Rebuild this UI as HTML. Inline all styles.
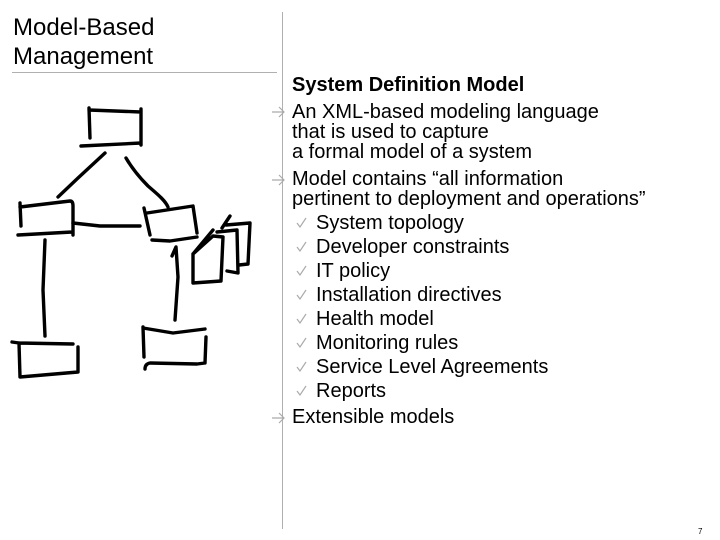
<!DOCTYPE html>
<html>
<head>
<meta charset="utf-8">
<style>
html,body{margin:0;padding:0;background:#fff}
svg{display:block}
text{font-family:"Liberation Sans",sans-serif;fill:#000}
.b{font-size:20px}
.s{fill:none;stroke:#000;stroke-width:3.4;stroke-linecap:round;stroke-linejoin:round}
.a{fill:none;stroke:#aaa;stroke-width:1.2}
.c{fill:none;stroke:#aaa;stroke-width:1.2}
</style>
</head>
<body>
<svg width="720" height="540" viewBox="0 0 720 540" xmlns="http://www.w3.org/2000/svg">
<rect width="720" height="540" fill="#fff"/>
<line x1="282.5" y1="12" x2="282.5" y2="529" stroke="#b0b0b0" stroke-width="1"/>
<line x1="12" y1="72.5" x2="277" y2="72.5" stroke="#b0b0b0" stroke-width="1"/>
<text x="13" y="35" font-size="24">Model-Based</text>
<text x="13" y="64" font-size="24">Management</text>

<text x="292" y="91" class="b" font-weight="bold">System Definition Model</text>
<text x="292" y="118" class="b">An XML-based modeling language</text>
<text x="292" y="138" class="b">that is used to capture</text>
<text x="292" y="158" class="b">a formal model of a system</text>
<text x="292" y="185" class="b">Model contains “all information</text>
<text x="292" y="205" class="b">pertinent to deployment and operations”</text>
<text x="316" y="229" class="b">System topology</text>
<text x="316" y="253" class="b">Developer constraints</text>
<text x="316" y="277" class="b">IT policy</text>
<text x="316" y="301" class="b">Installation directives</text>
<text x="316" y="325" class="b">Health model</text>
<text x="316" y="349" class="b">Monitoring rules</text>
<text x="316" y="373" class="b">Service Level Agreements</text>
<text x="316" y="397" class="b">Reports</text>
<text x="292" y="423" class="b">Extensible models</text>
<text x="698" y="534" font-size="8">7</text>

<path class="a" d="M272 112H284M279 107L284 112L279 117"/>
<path class="a" d="M272 180H284M279 175L284 180L279 185"/>
<path class="a" d="M272 418H284M279 413L284 418L279 423"/>

<path class="c" d="M297 223L300 227L306 218"/>
<path class="c" d="M297 247L300 251L306 242"/>
<path class="c" d="M297 271L300 275L306 266"/>
<path class="c" d="M297 295L300 299L306 290"/>
<path class="c" d="M297 319L300 323L306 314"/>
<path class="c" d="M297 343L300 347L306 338"/>
<path class="c" d="M297 367L300 371L306 362"/>
<path class="c" d="M297 391L300 395L306 386"/>

<path class="s" d="M89 108L90 138M89 110L141 112M141 109V145M81 146L141 143"/>
<path class="s" d="M105 153L78 178L58 197"/>
<path class="s" d="M126 158C133 170 140 178 148 186C156 193 165 200 168 207"/>
<path class="s" d="M20 203L21 226M20 207L70 201Q73 201 73 206V235M18 235L72 232"/>
<path class="s" d="M73 223L100 226H140"/>
<path class="s" d="M144 208L150 235M147 213L193 206L197 233M152 240L170 241L197 237"/>
<path class="s" d="M45 240L43 290L45 336"/>
<path class="s" d="M12 342L19 343L73 344M19 343L20 377L78 372V347"/>
<path class="s" d="M175 320L178 277L176 247L172 256"/>
<path class="s" d="M143 327L144 357M143 328L173 333L205 329M206 337L205 363L197 364L150 363Q145 364 145 369"/>
<path class="s" d="M193 254V283L221 281L223 237L213 236L193 254L213 230"/>
<path class="s" d="M217 232L237 230L238 273L227 271"/>
<path class="s" d="M222 228L230 216M226 225L250 223L248 264L239 265"/>
</svg>
</body>
</html>
